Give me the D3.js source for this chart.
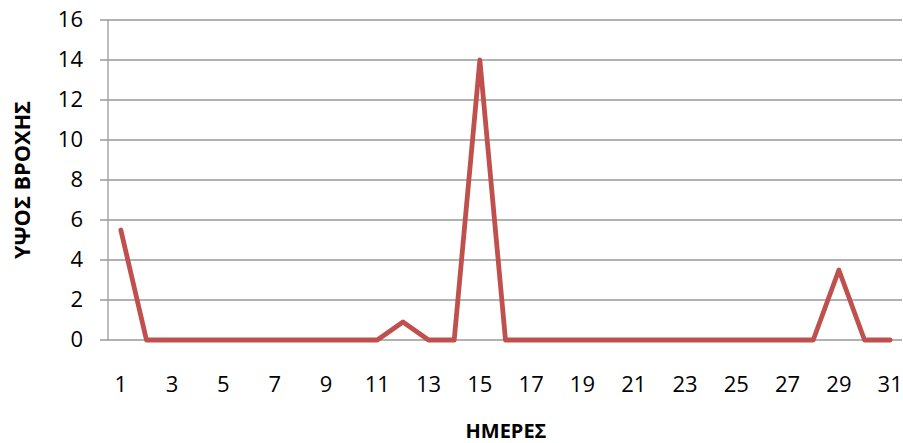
<!DOCTYPE html>
<html><head><meta charset="utf-8">
<script src="https://cdn.jsdelivr.net/npm/d3@7"></script>
<style>body{margin:0;background:#fff}text{font-family:"Open Sans","Noto Sans",sans-serif}</style>
</head><body><svg id="c" width="903" height="443"></svg>
<script>
const days = d3.range(1, 32).map(String);
const rain = [5.5,0,0,0,0,0,0,0,0,0,0,0.9,0,0,14,0,0,0,0,0,0,0,0,0,0,0,0,0,3.5,0,0];
const yTicks = [0,2,4,6,8,10,12,14,16];
const xTickLabels = days.filter((d,i)=>i%2===0);
const xTitle = "ΗΜΕΡΕΣ", yTitle = "ΥΨΟΣ ΒΡΟΧΗΣ";

const svg = d3.select("#c");
const L=108, R=903, T=20, B=340;
const x = d3.scaleBand().domain(days).range([L,R]);
const y = d3.scaleLinear().domain([0,16]).range([B,T]);

svg.append("g").selectAll("line").data(yTicks).join("line")
  .attr("x1",L-8).attr("x2",902).attr("y1",d=>y(d)).attr("y2",d=>y(d))
  .attr("stroke","#999").attr("stroke-width",1.3);
svg.append("line").attr("x1",L).attr("x2",L).attr("y1",T).attr("y2",B)
  .attr("stroke","#999").attr("stroke-width",1.3);

svg.append("g").selectAll("text").data(yTicks).join("text")
  .attr("x",83).attr("y",d=>y(d)).attr("dy","0.33em").attr("text-anchor","end")
  .attr("font-size",22).attr("fill","#000").text(d=>d);

svg.append("g").selectAll("text").data(xTickLabels).join("text")
  .attr("x",d=>x(d)+x.bandwidth()/2).attr("y",392).attr("text-anchor","middle")
  .attr("font-size",22).attr("fill","#000").text(d=>d);

svg.append("path").datum(rain)
  .attr("d", d3.line().x((d,i)=>x(days[i])+x.bandwidth()/2).y(d=>y(d)))
  .attr("fill","none").attr("stroke","#C0504D").attr("stroke-width",4.8)
  .attr("stroke-linejoin","round").attr("stroke-linecap","round");

svg.append("text").attr("x",506).attr("y",438).attr("text-anchor","middle")
  .attr("font-size",20).attr("font-weight","bold").text(xTitle);
svg.append("text").attr("transform","translate(30,180) rotate(-90)").attr("text-anchor","middle")
  .attr("font-size",21).attr("font-weight","bold").attr("textLength",158).attr("lengthAdjust","spacingAndGlyphs").text(yTitle);
</script></body></html>
